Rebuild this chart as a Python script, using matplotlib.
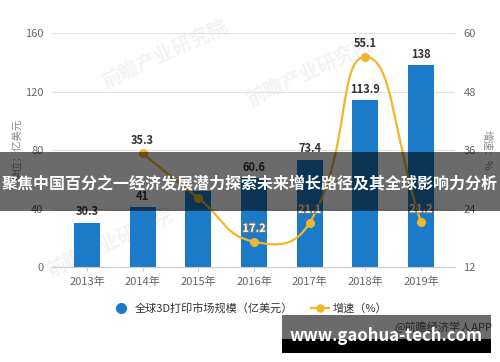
import matplotlib.pyplot as plt
from matplotlib.path import Path
from matplotlib.patches import PathPatch, Rectangle
from matplotlib.lines import Line2D
import matplotlib.patheffects as pe
import numpy as np

plt.rcParams['font.family'] = ['Noto Sans CJK SC', 'DejaVu Sans']

years = ['2013年', '2014年', '2015年', '2016年', '2017年', '2018年', '2019年']
market = [30.3, 41, 51.7, 60.6, 73.4, 113.9, 138]
growth_idx = [1, 2, 3, 4, 5, 6]
growth = [35.3, 26.1, 17.2, 21.1, 55.1, 21.2]
left_ticks = [0, 40, 80, 120, 160]
right_ticks = [12, 24, 36, 48, 60]
hidden_label = '2015年'   # its labels are not readable under the banner

blue = '#1c7bc9'
gold = '#f2b52c'
grey_txt = '#666666'

fig = plt.figure(figsize=(5, 3.62), dpi=100)

# faint watermarks behind everything
for wx, wy in [(0.33, 0.85), (0.62, 0.8), (0.22, 0.33)]:
    fig.text(wx, wy, '前瞻产业研究院', fontsize=14, color='#f3f3f3', rotation=25,
             ha='center', va='center', fontweight='bold', zorder=-5)

ax = fig.add_axes([0.104, 0.2624, 0.806, 0.6464])
ax.patch.set_alpha(0)
ax2 = ax.twinx()

x = list(range(len(years)))
ax.bar(x, market, width=0.47, color=blue, zorder=2)
for xi, v in zip(x, market):
    if years[xi] == hidden_label:
        continue
    ax.text(xi, v + 3, f'{v:g}', ha='center', va='bottom', fontsize=8,
            color='#333333', fontweight='bold', zorder=5)

ax.set_xlim(-0.629, 6.61)
ax.set_ylim(0, 160)
ax.set_yticks(left_ticks)
ax.set_xticks(x)
ax.set_xticklabels(years)
ax.grid(axis='y', color='#e3e3e3', linewidth=0.8, zorder=0)
ax.set_axisbelow(True)
for s in ['top', 'right', 'left']:
    ax.spines[s].set_visible(False)
ax.spines['bottom'].set_color('#cccccc')
ax.tick_params(axis='y', length=0, labelsize=8, labelcolor=grey_txt, pad=6)
ax.tick_params(axis='x', length=3, color='#cccccc', labelsize=8, labelcolor=grey_txt, pad=4)
ax.set_ylabel('单位：亿美元', fontsize=7.5, color='#888888', labelpad=1)

ax2.set_ylim(12, 60)
ax2.set_yticks(right_ticks)
for s in ax2.spines.values():
    s.set_visible(False)
ax2.tick_params(axis='y', length=0, labelsize=8, labelcolor=grey_txt, pad=6)
ax2.set_ylabel('增速：%', fontsize=7.5, color='#888888', rotation=270, labelpad=12)

# smooth curve (echarts-like bezier) through the growth points
smooth = 0.5
pts = np.array(list(zip(growth_idx, growth)), dtype=float)
pix = ax2.transData.transform(pts)
n = len(pts)
cps = []
for i in range(n):
    prev = pts[i - 1] if i > 0 else pts[i]
    nxt = pts[i + 1] if i < n - 1 else pts[i]
    pp = pix[i - 1] if i > 0 else pix[i]
    pn = pix[i + 1] if i < n - 1 else pix[i]
    d0 = np.hypot(*(pix[i] - pp))
    d1 = np.hypot(*(pix[i] - pn))
    v = nxt - prev
    tot = d0 + d1 if d0 + d1 > 0 else 1
    cps.append((pts[i] - v * smooth * d0 / tot, pts[i] + v * smooth * d1 / tot))
verts = [tuple(pts[0])]
codes = [Path.MOVETO]
for i in range(n - 1):
    verts += [tuple(cps[i][1]), tuple(cps[i + 1][0]), tuple(pts[i + 1])]
    codes += [Path.CURVE4] * 3
ax2.add_patch(PathPatch(Path(verts, codes), facecolor='none', edgecolor=gold,
                        linewidth=1.6, zorder=3))
ax2.plot(growth_idx, growth, 'o', color=gold, markersize=5.5, zorder=4)
for xi, v in zip(growth_idx, growth):
    if years[xi] == hidden_label:
        continue
    if v > 30:
        ax2.text(xi, v + 1.4, f'{v:g}', ha='center', va='bottom', fontsize=8,
                 color='#333333', fontweight='bold', zorder=5)
    else:
        ax2.text(xi, v + 1.4, f'{v:g}', ha='center', va='bottom', fontsize=8,
                 color='white', fontweight='bold', zorder=5,
                 path_effects=[pe.withStroke(linewidth=1.6, foreground='#777777')])

handles = [
    Line2D([], [], marker='o', linestyle='none', color=blue, markersize=7),
    Line2D([], [], marker='o', color=gold, markersize=5, linewidth=1.6),
]
fig.legend(handles, ['全球3D打印市场规模（亿美元）', '增速（%）'], loc='center',
           bbox_to_anchor=(0.5, 0.149), ncol=2, frameon=False, fontsize=8,
           handlelength=1.6, columnspacing=1.6, handletextpad=0.4,
           labelcolor='#333333')

# banner overlay
fig.patches.append(Rectangle((0, 1 - 211 / 362), 1, 59 / 362, transform=fig.transFigure,
                             facecolor='black', alpha=0.58, zorder=10))
fig.text(0.5, 1 - 183 / 362, '聚焦中国百分之一经济发展潜力探索未来增长路径及其全球影响力分析',
         ha='center', va='center', fontsize=11.5, color='white', fontweight='bold', zorder=11)

# bottom watermark box
fig.text(0.985, 1 - 327 / 362, '@前瞻经济学人APP', ha='right', va='center',
         fontsize=8, color='#555555', zorder=9)
fig.patches.append(Rectangle((282 / 500, 1 - 339 / 362), 209 / 500, 24 / 362,
                             transform=fig.transFigure, facecolor='black', alpha=0.58, zorder=10))
fig.patches.append(Rectangle((282 / 500, 1 - 353 / 362), 209 / 500, 14 / 362,
                             transform=fig.transFigure, facecolor='black', zorder=10))
fig.text(386 / 500, 1 - 336 / 362, 'www.gaohua-tech.com', ha='center', va='center',
         fontsize=12, color='white', fontweight='bold', zorder=11)

fig.savefig('out.png', dpi=100)
